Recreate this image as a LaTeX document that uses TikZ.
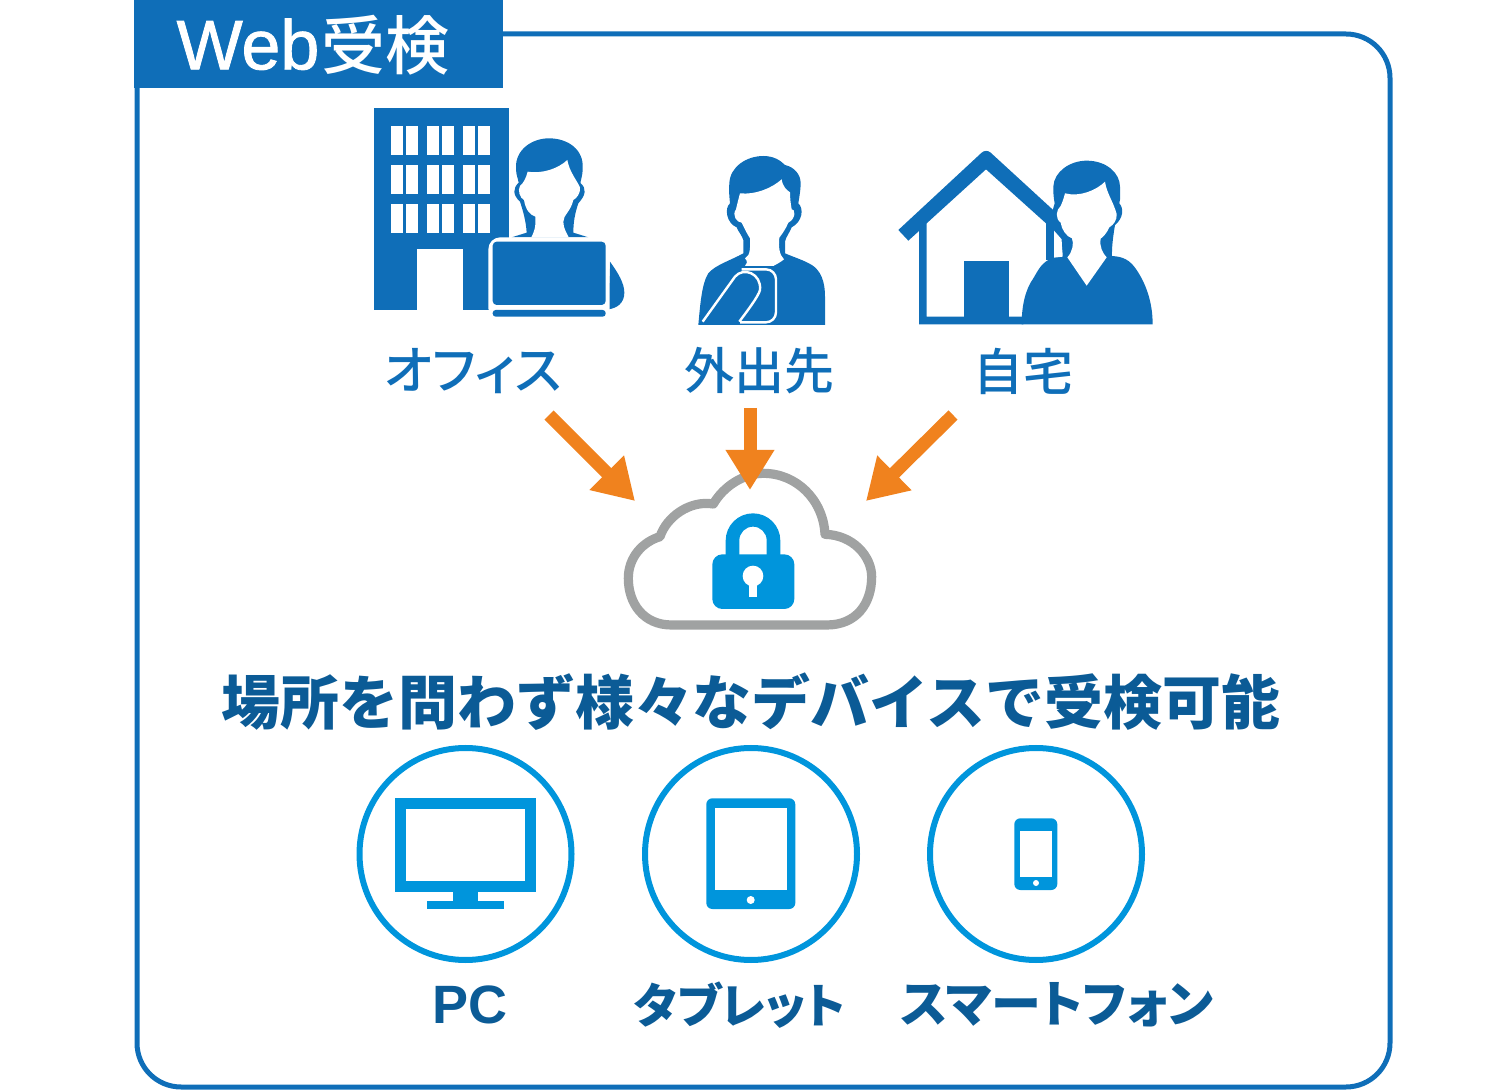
\documentclass[tikz,border=0pt]{standalone}
\usepackage{fontspec}
\usepackage{xcolor}
\usetikzlibrary{arrows.meta}
\newfontfamily\jpfont{Noto Sans CJK JP}
\newfontfamily\jpmedium{Noto Sans CJK JP Medium}[RawFeature={+palt}]
\newfontfamily\jpkana{Noto Sans CJK JP}[RawFeature={+palt}]
\newfontfamily\latinfont{Liberation Sans}[FakeBold=1.2]
\newfontfamily\latinbold{Liberation Sans}
\definecolor{darkblue}{HTML}{0F6EB8}
\definecolor{textblue}{HTML}{0B5B96}
\definecolor{lightblue}{HTML}{0095DC}
\definecolor{arroworange}{HTML}{F0821E}
\definecolor{cloudgray}{HTML}{A0A2A2}

\begin{document}
\begin{tikzpicture} [x=0.5pt, y=-0.5pt
  , place/.style={font=\jpmedium\fontsize{#1}{28}\selectfont, text=darkblue, inner sep=0pt}
  , device/.style={font=\jpkana\bfseries\fontsize{#1}{28}\selectfont, text=textblue, inner sep=0pt}
  , ring/.style={circle, draw=lightblue, line width=3pt, minimum size=106pt, inner sep=0pt}
  , inward/.style={-{Triangle[length=20pt,width=23pt]}, color=arroworange, line width=6.5pt}
  , zoomed/.style={shift={#1}, scale=1/3}
]
  \useasboundingbox (0,0) rectangle (1500,1090);

  % frame and tab
  \draw[darkblue, line width=2.5pt, rounded corners=22pt] (137,34) rectangle (1390,1087);
  \fill[darkblue] (134,0) rectangle (503,88);
  \node[inner sep=0pt, text=white] (title) at (313,45)
    {\fontsize{35}{36}\selectfont\latinfont Web\hspace{1pt}\jpmedium\fontsize{32}{36}\selectfont 受検};

  % office
  \fill[darkblue] (374,108) rectangle (509,310);
  \foreach \x in {390.7,406,426.7,442.3,463,478.3}
    \foreach \y in {126,164.7,204}
      \fill[white] (\x,\y) rectangle ++(12,29);
  \fill[white] (417.3,249) rectangle (463.3,310);
  \begin{scope}[zoomed={(360,100)}]
    \fill[darkblue] (468,205) .. controls (465,150) and (515,115) .. (567,115)
      .. controls (625,115) and (672,150) .. (668,205) .. controls (668,230) and (660,245) .. (662,250)
      .. controls (680,265) and (678,285) .. (655,310) .. controls (645,340) and (640,365) .. (640,398)
      -- (685,412) -- (455,412) -- (500,398)
      .. controls (498,365) and (490,335) .. (480,305)
      .. controls (458,285) and (458,265) .. (476,248) .. controls (474,235) and (468,225) .. (468,205) -- cycle;
    \fill[white] (503,215) .. controls (550,222) and (595,205) .. (622,180)
      .. controls (628,215) and (650,240) .. (660,262) .. controls (662,280) and (650,295) .. (640,300)
      .. controls (632,335) and (610,345) .. (610,365) .. controls (610,385) and (620,398) .. (626,412)
      -- (514,412) .. controls (522,395) and (528,385) .. (526,350)
      .. controls (510,345) and (497,330) .. (492,300) .. controls (480,295) and (472,270) .. (480,258)
      .. controls (490,250) and (498,235) .. (503,215) -- cycle;
    \fill[darkblue] (750,485) .. controls (775,520) and (793,550) .. (793,578)
      .. controls (793,610) and (770,625) .. (745,628) -- cycle;
    \fill[white, rounded corners=6pt] (385,412) rectangle (749,660);
    \fill[darkblue, rounded corners=2pt] (398,425) rectangle (737,615);
    \fill[darkblue, rounded corners=1.5pt] (398,630) rectangle (737,650);
  \end{scope}

  % outside
  \begin{scope}[zoomed={(680,140)}]
    \fill[darkblue] (148,130) .. controls (150,80) and (200,48) .. (250,48)
      .. controls (280,48) and (300,60) .. (315,75) .. controls (345,82) and (362,105) .. (362,130)
      .. controls (362,150) and (358,170) .. (355,190) .. controls (372,205) and (368,245) .. (335,262)
      .. controls (328,280) and (318,290) .. (315,305) -- (315,340)
      .. controls (350,355) and (385,365) .. (405,382) .. controls (430,405) and (435,440) .. (435,470)
      -- (435,555) -- (55,555) .. controls (60,500) and (65,430) .. (85,400)
      .. controls (105,375) and (155,360) .. (190,340) -- (190,300)
      .. controls (185,285) and (175,275) .. (170,262) .. controls (140,250) and (132,205) .. (150,190)
      .. controls (148,170) and (146,150) .. (148,130) -- cycle;
    \fill[white] (180,160) .. controls (225,165) and (275,145) .. (305,118)
      .. controls (308,140) and (320,150) .. (330,157) .. controls (330,175) and (332,190) .. (335,208)
      .. controls (345,205) and (350,235) .. (325,248) .. controls (318,265) and (308,280) .. (298,293)
      .. controls (295,320) and (298,345) .. (312,358) .. controls (300,368) and (290,372) .. (280,378)
      -- (195,378) .. controls (200,372) and (205,365) .. (195,355)
      .. controls (213,345) and (210,320) .. (210,295) .. controls (200,280) and (192,262) .. (185,248)
      .. controls (170,248) and (155,225) .. (168,208) .. controls (172,190) and (176,175) .. (180,160) -- cycle;
    \draw[white, line width=1.2pt, rounded corners=5pt] (185,388) -- (288,388) -- (288,547) -- (180,547);
    \draw[white, line width=1.2pt, line join=round] (68,545) -- (165,410)
      .. controls (190,380) and (245,400) .. (240,450) .. controls (235,470) and (200,515) .. (178,545);
  \end{scope}

  % home
  \begin{scope}[zoomed={(680,140)}]
    \fill[darkblue] (655,270) -- (905,38) .. controls (912,31) and (925,31) .. (932,38)
      -- (1125,215) -- (1125,360) -- (1098,360) -- (1098,250) -- (918,88) -- (740,250)
      -- (740,530) -- (1030,530) -- (1030,553) -- (717,553) -- (717,273) -- (685,302) -- cycle;
    \fill[darkblue] (851,362) rectangle (987,530);
    \fill[darkblue] (1120,140) .. controls (1122,95) and (1170,62) .. (1220,62)
      .. controls (1280,62) and (1320,100) .. (1320,140) .. controls (1320,160) and (1322,175) .. (1318,190)
      .. controls (1332,205) and (1330,235) .. (1305,255) .. controls (1300,285) and (1295,320) .. (1296,348)
      .. controls (1330,350) and (1350,360) .. (1370,390) .. controls (1400,435) and (1418,490) .. (1418,553)
      -- (1025,553) .. controls (1025,500) and (1035,450) .. (1060,415)
      .. controls (1075,390) and (1085,365) .. (1122,352) -- (1122,270) -- (1116,225)
      .. controls (1118,205) and (1122,200) .. (1124,190) .. controls (1120,170) and (1120,155) .. (1120,140) -- cycle;
    \fill[white] (1155,160) .. controls (1200,172) and (1250,150) .. (1275,125)
      .. controls (1280,160) and (1300,185) .. (1310,222) .. controls (1312,240) and (1300,255) .. (1288,262)
      .. controls (1280,280) and (1270,290) .. (1262,296) .. controls (1258,320) and (1268,340) .. (1280,352)
      -- (1220,437) -- (1162,352) .. controls (1178,335) and (1182,310) .. (1176,295)
      .. controls (1160,290) and (1145,270) .. (1142,248) .. controls (1125,235) and (1128,210) .. (1142,198)
      .. controls (1148,185) and (1152,172) .. (1155,160) -- cycle;
    \fill[white] (1122,272) -- (1145,298) .. controls (1145,320) and (1148,335) .. (1148,350) -- (1122,353) -- cycle;
  \end{scope}

  \node[place=26] (office) at (473,371) {オフィス};
  \node[place=25] (outside) at (759,371) {外出先};
  \node[place=25] (home) at (1023,371) {自宅};

  % cloud and lock
  \begin{scope}[zoomed={(600,400)}]
    \draw[cloudgray, line width=4.6pt, line join=round] (215,675)
      .. controls (130,675) and (85,610) .. (85,535)
      .. controls (85,470) and (130,425) .. (180,410)
      .. controls (200,350) and (270,300) .. (340,312)
      .. controls (370,260) and (430,220) .. (490,220)
      .. controls (590,220) and (670,300) .. (675,403)
      .. controls (760,405) and (815,470) .. (815,530)
      .. controls (815,610) and (770,675) .. (680,675) -- cycle;
    \fill[lightblue, rounded corners=5pt] (337,463) rectangle (583,627);
    \fill[lightblue] (377,470) -- (377,422) arc[start angle=180, end angle=360, radius=82] -- (541,470)
      -- (500,470) -- (500,421) arc[start angle=0, end angle=-180, radius=41] -- (418,470) -- cycle;
    \fill[white] (459,528) circle[radius=31];
    \fill[white] (448,540) rectangle (471,592);
  \end{scope}
  \coordinate (cloudleft) at (635,501);
  \coordinate (cloudtop) at (750,490);
  \coordinate (cloudright) at (866,501);
  \coordinate (officefoot) at (549,415);
  \coordinate (outsidefoot) at (750,408);
  \coordinate (homefoot) at (953,415);
  \path
  (officefoot) edge[inward] (cloudleft)
  (outsidefoot) edge[inward] (cloudtop)
  (homefoot) edge[inward] (cloudright)
  ;

  \node[inner sep=0pt, text=textblue, font=\jpfont\bfseries\fontsize{29.45}{32}\selectfont] (caption) at (751,702)
    {場所を問わず様々なデバイスで受検可能};

  % devices
  \node[ring] (pcring) at (465.5,854) {};
  \node[ring] (tabletring) at (751,854) {};
  \node[ring] (phonering) at (1036,854) {};

  \fill[lightblue] (394.7,798.3) rectangle (535.7,892);
  \fill[white] (405.7,809) rectangle (525,881.3);
  \fill[lightblue] (452.7,892) rectangle (478.3,902);
  \fill[lightblue] (426.7,901.3) rectangle (504,909.3);

  \fill[lightblue, rounded corners=3pt] (706.3,798.3) rectangle (795.3,909);
  \fill[white] (714.7,808.3) rectangle (786.7,890.3);
  \fill[white] (750.7,900) circle[radius=4];

  \fill[lightblue, rounded corners=3pt] (1014.3,818.3) rectangle (1057.3,890);
  \fill[white] (1020.3,830.7) rectangle (1051.7,876.7);
  \fill[white] (1036,883) circle[radius=3];

  \node[device=27, font=\latinbold\bfseries\fontsize{27}{30}\selectfont] (pc) at (470,1005) {PC};
  \node[device=23.8] (tablet) at (740,1005) {タブレット};
  \node[device=25] (phone) at (1057,1005) {スマートフォン};
\end{tikzpicture}
\end{document}
